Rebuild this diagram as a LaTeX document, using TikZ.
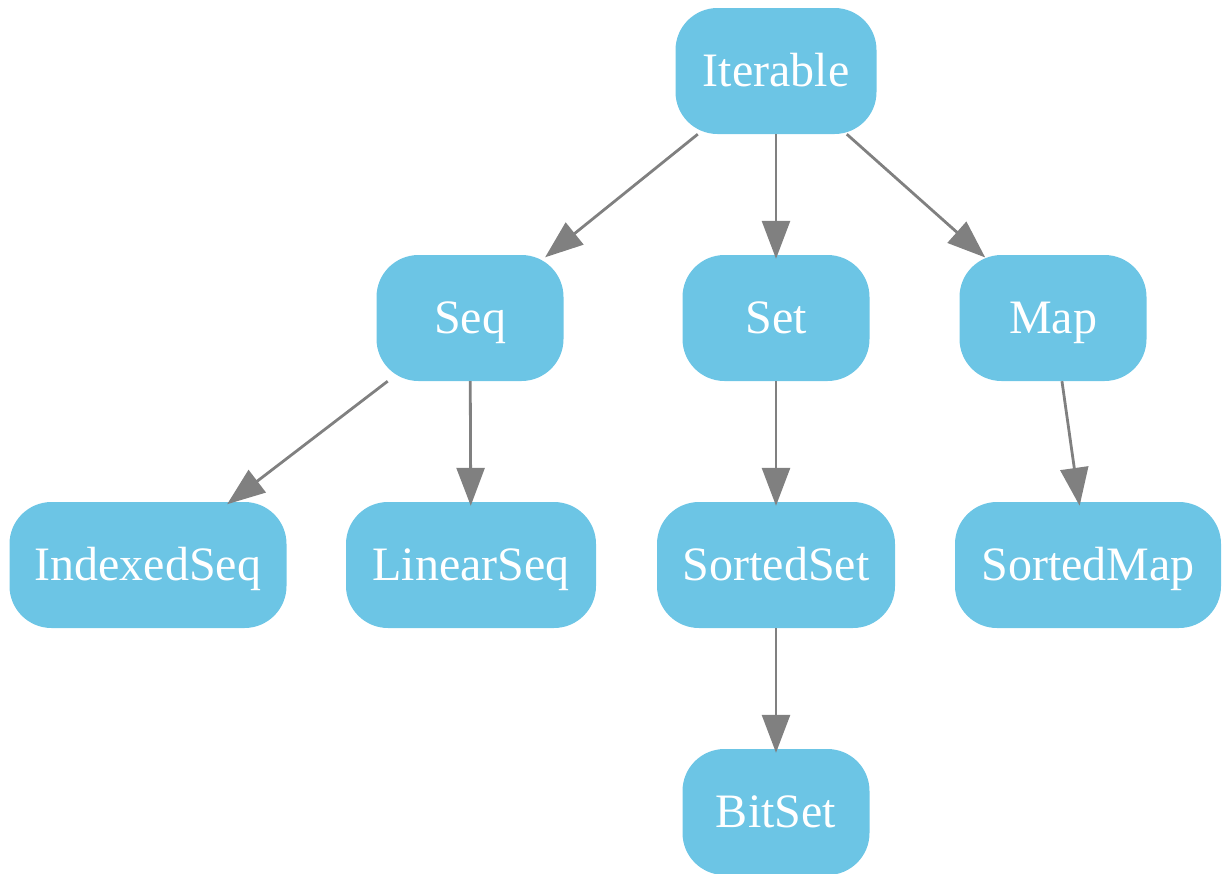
\documentclass[tikz,border=0pt]{standalone}
\usepackage{fontspec}
\setmainfont{Liberation Serif}
\usetikzlibrary{arrows.meta}
\definecolor{boxblue}{HTML}{6CC5E5}
\definecolor{edgegray}{HTML}{808080}
\tikzset{
  cls/.style={rectangle, rounded corners=42pt, fill=boxblue, text=white,
    minimum height=126pt, inner sep=0pt, text height=34pt, text depth=4pt,
    font=\fontsize{48}{48}\selectfont},
  link/.style={draw=edgegray, line width=2.8pt,
    -{Triangle[length=38pt,width=28pt]}, shorten >=-4pt}
}
\begin{document}
\begin{tikzpicture}[x=1pt,y=-1pt]
\useasboundingbox (0,0) rectangle (1223,873);
\node[cls, minimum width=201pt] (iterable) at (776,71) {Iterable};
\node[cls, minimum width=187pt] (seq) at (470,318) {Seq};
\node[cls, minimum width=187pt] (set) at (776,318) {Set};
\node[cls, minimum width=187pt] (map) at (1053,318) {Map};
\node[cls, minimum width=277pt] (indexedseq) at (148,565) {IndexedSeq};
\node[cls, minimum width=250pt] (linearseq) at (471,565) {LinearSeq};
\node[cls, minimum width=238pt] (sortedset) at (776,565) {SortedSet};
\node[cls, minimum width=266pt] (sortedmap) at (1088,565) {SortedMap};
\node[cls, minimum width=187pt] (bitset) at (776,812) {BitSet};
\draw[link] (iterable) -- (seq);
\draw[link] (iterable) -- (set);
\draw[link] (iterable) -- (map);
\draw[link] (seq) -- (indexedseq);
\draw[link] (seq) -- (linearseq);
\draw[link] (set) -- (sortedset);
\draw[link] (map) -- (sortedmap);
\draw[link] (sortedset) -- (bitset);
\end{tikzpicture}
\end{document}
